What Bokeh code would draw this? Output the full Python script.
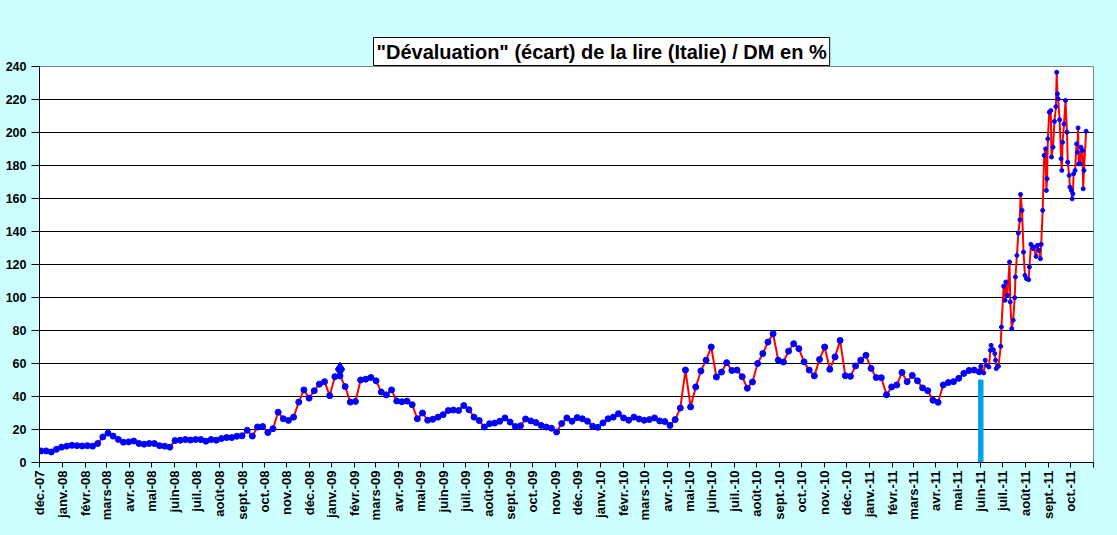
import math
import pandas as pd
from bokeh.plotting import figure
from bokeh.models import Range1d, FixedTicker
from bokeh.embed import file_html
from bokeh.resources import INLINE

# ---------------- data ----------------
title_text = '"Dévaluation" (écart) de la lire (Italie) / DM en %'
axis_start = "2007-12-01"
axis_end = "2011-11-01"
months_fr = ["janv.", "févr.", "mars", "avr.", "mai", "juin",
             "juil.", "août", "sept.", "oct.", "nov.", "déc."]
y_ticks = list(range(0, 241, 20))

weekly_start = "2007-12-03"
weekly_values = [
    7.0, 7.0, 6.4, 8.0, 9.3, 9.9, 10.4, 10.2, 10.0, 10.2,
    9.9, 11.5, 15.5, 17.8, 16.0, 14.0, 12.3, 12.5, 13.0, 11.5,
    11.1, 11.5, 11.5, 10.2, 9.9, 9.3, 13.3, 13.5, 13.9, 13.6,
    13.9, 13.9, 12.9, 13.9, 13.5, 14.5, 15.1, 15.1, 15.9, 16.2,
    19.5, 16.0, 21.5, 21.8, 18.2, 20.5, 30.5, 26.5, 25.5, 27.5,
    36.6, 44.0, 39.0, 43.5, 47.5, 49.0, 40.5, 52.0, 52.5, 46.0,
    36.6, 37.0, 50.0, 50.5, 51.5, 49.5, 42.7, 41.0, 44.0, 37.3,
    36.8, 37.2, 35.0, 26.5, 30.0, 25.6, 26.2, 27.5, 29.0, 31.5,
    31.8, 31.5, 34.5, 32.0, 27.5, 25.4, 21.5, 23.5, 23.9, 25.0,
    27.0, 24.5, 21.8, 22.2, 26.4, 25.2, 24.2, 22.5, 21.5, 20.8,
    18.5, 23.6, 27.0, 25.0, 27.2, 26.5, 25.0, 22.0, 21.3, 24.0,
    26.5, 27.5, 29.6, 27.0, 25.6, 27.5, 26.4, 25.6, 26.0, 27.0,
    25.2, 24.8, 22.5, 26.0, 33.0, 56.0, 33.7, 45.8, 55.5, 62.0,
    70.0, 51.8, 54.8, 60.5, 55.8, 56.0, 52.0, 45.0, 48.8, 60.0,
    66.0, 73.0, 78.0, 62.0, 60.9, 67.5, 72.0, 69.0, 61.0, 56.0,
    52.5, 62.5, 70.0, 56.5, 64.0, 74.0, 52.6, 52.2, 58.5, 62.0,
    65.0, 57.0, 51.5, 51.4, 41.0, 45.8, 47.0, 54.6, 49.0, 52.8,
    49.5, 45.2, 43.5, 37.7, 36.5, 47.0, 48.5, 49.0, 51.0, 54.0,
    55.8, 56.0, 55.0,
]

late_dates = [
    "2011-06-01", "2011-06-05", "2011-06-07", "2011-06-09", "2011-06-12",
    "2011-06-14", "2011-06-15", "2011-06-18", "2011-06-20", "2011-06-21",
    "2011-06-22", "2011-06-25", "2011-06-28", "2011-06-29", "2011-07-02",
    "2011-07-04", "2011-07-05", "2011-07-07", "2011-07-10", "2011-07-11",
    "2011-07-13", "2011-07-15", "2011-07-17", "2011-07-18", "2011-07-20",
    "2011-07-22", "2011-07-24", "2011-07-25", "2011-07-27", "2011-07-29",
    "2011-07-31", "2011-08-02", "2011-08-05", "2011-08-06", "2011-08-08",
    "2011-08-11", "2011-08-12", "2011-08-15", "2011-08-17", "2011-08-19",
    "2011-08-21", "2011-08-22", "2011-08-24", "2011-08-26", "2011-08-28",
    "2011-08-29", "2011-08-30", "2011-08-31", "2011-09-02", "2011-09-04",
    "2011-09-05", "2011-09-07", "2011-09-09", "2011-09-11", "2011-09-12",
    "2011-09-13", "2011-09-14", "2011-09-16", "2011-09-18", "2011-09-19",
    "2011-09-20", "2011-09-22", "2011-09-24", "2011-09-26", "2011-09-27",
    "2011-09-29", "2011-09-30", "2011-10-02", "2011-10-03", "2011-10-04",
    "2011-10-05", "2011-10-07", "2011-10-09", "2011-10-10", "2011-10-11",
    "2011-10-12", "2011-10-14", "2011-10-15", "2011-10-17", "2011-10-18",
    "2011-10-19", "2011-10-22",
]
late_values = [
    58.3, 54.3, 62.0, 58.9, 57.9,
    68.0, 71.0, 68.4, 66.0, 62.0,
    56.9, 58.3, 70.4, 82.1, 106.8,
    98.3, 109.4, 101.3, 121.5, 97.3,
    81.1, 86.2, 99.9, 112.4, 125.5,
    139.0, 147.1, 162.5, 152.8, 127.5,
    113.4, 111.4, 110.8, 118.5, 132.2,
    129.6, 130.6, 124.9, 131.6, 128.6,
    123.5, 132.2, 152.8, 186.1, 190.1,
    164.9, 172.0, 196.2, 212.3, 213.3,
    185.1, 191.1, 206.7, 215.7, 236.5,
    223.4, 220.4, 207.7, 184.1, 177.0,
    194.1, 205.2, 219.4, 200.2, 182.0,
    174.0, 166.9, 164.9, 159.8, 162.9,
    175.0, 177.0, 193.1, 188.1, 202.8,
    181.0, 181.0, 191.1, 189.1, 165.9,
    177.0, 200.8,
]

marker_date = "2009-01-12"
marker_value = 56.5
bar_date = "2011-06-01"
bar_value = 50

# ---------------- derived ----------------
t0 = pd.Timestamp(axis_start)


def day(d):
    return float((pd.Timestamp(d) - t0).days)


weekly_dates = pd.date_range(weekly_start, periods=len(weekly_values), freq="7D")
wx = [day(d) for d in weekly_dates]
lx = [day(d) for d in late_dates]
xs = wx + lx
ys = list(weekly_values) + list(late_values)

tick_dates = pd.date_range(axis_start, axis_end, freq="MS")
tick_x = [int(day(d)) for d in tick_dates]
tick_labels = [f"{months_fr[d.month - 1]}-{d:%y}" for d in tick_dates]
tick_labels[-1] = ""

FONT = "Liberation Sans"
BG = "#CCFFFF"

p = figure(width=1117, height=535, output_backend="svg", toolbar_location=None,
           x_range=Range1d(0, day(axis_end)), y_range=Range1d(0, 240),
           min_border_left=39, min_border_right=24, min_border_top=66,
           min_border_bottom=73)
p.background_fill_color = "white"
p.border_fill_color = BG
p.outline_line_color = "#808080"
p.outline_line_width = 1

# title box
p.title.text = title_text
p.title.text_font = FONT
p.title.text_font_style = "bold"
p.title.text_font_size = "20px"
p.title.text_color = "black"
p.title.align = "left"
p.title.offset = 334
p.title.standoff = 2
p.title.background_fill_color = "white"
p.title.border_line_color = "black"
p.title.border_line_width = 1
p.title.padding = 3

p.xgrid.visible = False
p.ygrid.ticker = FixedTicker(ticks=y_ticks)
p.ygrid.grid_line_color = "black"
p.ygrid.grid_line_width = 1

p.yaxis.ticker = FixedTicker(ticks=y_ticks)
p.xaxis.ticker = FixedTicker(ticks=tick_x)
p.xaxis.major_label_overrides = {t: lab for t, lab in zip(tick_x, tick_labels)}
p.xaxis.major_label_orientation = math.pi / 2

for ax in (p.xaxis[0], p.yaxis[0]):
    ax.axis_line_color = "black"
    ax.axis_line_width = 1
    ax.major_tick_line_color = "black"
    ax.major_tick_in = 0
    ax.minor_tick_line_color = None
    ax.major_label_text_font = FONT
    ax.major_label_text_font_style = "bold"
    ax.major_label_text_color = "black"
p.yaxis.major_tick_out = 8
p.yaxis.major_label_standoff = 5
p.yaxis.major_label_text_font_size = "12.5px"
p.xaxis.major_tick_out = 5
p.xaxis.major_label_standoff = 3
p.xaxis.major_label_text_font_size = "13px"

# vertical marker bar
p.vbar(x=[day(bar_date)], top=[bar_value], bottom=0, width=6,
       fill_color="#00A2E8", line_color="#00A2E8")

# series
p.line(xs, ys, line_color="#FF0000", line_width=2)
p.scatter(wx, weekly_values, size=6, marker="circle", fill_color="#0000FF",
          line_color="#0000FF")
p.scatter(lx, late_values, size=4, marker="circle", fill_color="#0000FF",
          line_color="#0000FF")
p.scatter([day(marker_date)], [marker_value], marker="diamond", size=14,
          fill_color="#0000FF", line_color="#0000FF")

tmpl = "{% block postamble %}<style>html, body { background-color: #CCFFFF; }</style>{% endblock %}"
open("out.html", "w").write(file_html(p, INLINE, "Dévaluation lire", template=tmpl))
